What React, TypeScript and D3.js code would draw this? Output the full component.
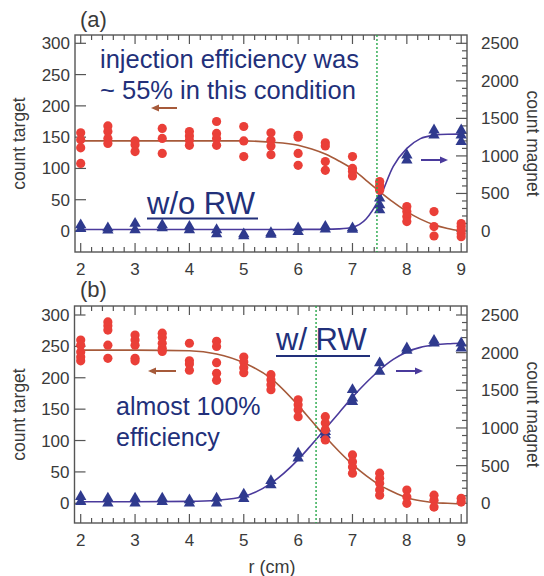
import React, { useEffect, useRef } from "react";
import * as d3 from "d3";

// r positions where counts were taken (cm)
const rValues = [2, 2.5, 3, 3.5, 4, 4.5, 5, 5.5, 6, 6.5, 7, 7.5, 8, 8.5, 9];

// (a) w/o RW -- count target (left axis), one list per r
const targetA = [
  [157, 146, 133, 108], [168, 159, 148, 140], [144, 138, 127], [164, 148, 124],
  [159, 152, 145, 137], [175, 156, 148, 137], [167, 144, 119], [157, 145, 136, 122],
  [153, 150, 124, 105], [141, 136, 111, 97], [119, 100, 95, 88], [79, 73, 68, 65],
  [39, 31, 23, 15], [31, 7, -8], [12, 7, 2, -4, -9],
];
// (a) count magnet (right axis)
const magnetA = [
  [80, 30], [40, 10], [100, 15], [80, 40], [60, 15], [15, -40], [-40, -65], [-25, -45],
  [40, -10], [60, 25], [40, 20], [435, 346, 279], [1010, 944], [1343, 1276], [1343, 1276, 1188],
];

// (b) w/ RW
const targetB = [
  [260, 252, 241, 233, 227], [289, 283, 276, 252, 231], [268, 260, 252, 231, 227],
  [271, 264, 255, 247, 242], [255, 227, 222, 212], [258, 250, 224, 207, 196],
  [233, 225, 216, 208], [205, 197, 189, 181], [165, 157, 149, 138], [138, 128, 117, 101],
  [77, 66, 58, 48], [48, 40, 32, 21, 13], [21, 10, 0], [13, 5, -6], [8, 2],
];
const magnetB = [
  [88, 22], [66, 0], [66, 0], [66, 22], [44, 0], [66, 0], [120, 60], [300, 243],
  [665, 598], [997, 952, 908], [1507, 1395, 1350], [1862, 1750], [2060, 2030],
  [2162, 2127], [2127, 2060],
];

// fitted curves
const fitR = [2, 3, 4, 4.5, 5, 5.5, 6, 6.25, 6.5, 6.75, 7, 7.25, 7.5, 7.75, 8, 8.25, 8.5, 8.75, 9];
const fitTargetA = [144, 144, 144, 144, 144, 142, 137, 131, 123, 112, 99, 81, 63, 46, 31, 19, 10, 4, 0];
const fitMagnetA = [20, 20, 20, 20, 20, 20, 21, 21, 22, 28, 50, 160, 440, 860, 1100, 1230, 1275, 1288, 1290];
const fitTargetB = [244, 244, 243, 238, 224, 199, 156, 131, 106, 83, 62, 44, 29, 18, 9, 4, 1, 0, -1];
const fitMagnetB = [20, 20, 25, 40, 90, 265, 580, 780, 990, 1200, 1410, 1600, 1770, 1910, 2010, 2070, 2100, 2118, 2125];

// where the RW marker (green dotted) sits
const markerR = [7.45, 6.33];

const xTicks = [2, 3, 4, 5, 6, 7, 8, 9];
const targetTicks = [0, 50, 100, 150, 200, 250, 300];
const magnetTicks = [0, 500, 1000, 1500, 2000, 2500];

const FONT = "'Liberation Sans', Arial, Helvetica, sans-serif";
const RED = "#ea3f38";
const BLUE = "#2f3a8e";
const RED_LINE = "#a65a3a";
const BLUE_LINE = "#4a3a9c";
const NAVY = "#22307a";
const AXIS = "#555";
const TEXT = "#3a3a3a";

// frame geometry of the two panels
const layout = [
  { top: 35, bottom: 252, left: 75, right: 467, y0: 231, y300: 43.3 },
  { top: 306, bottom: 523, left: 74.5, right: 467, y0: 503.3, y300: 315 },
];

function arrow(g, x1, x2, y, color) {
  const dir = Math.sign(x2 - x1);
  g.append("line")
    .attr("x1", x1).attr("x2", x2 - dir * 6)
    .attr("y1", y).attr("y2", y)
    .attr("stroke", color).attr("stroke-width", 2);
  g.append("path")
    .attr("d", `M${x2},${y} L${x2 - dir * 8},${y - 3.5} L${x2 - dir * 8},${y + 3.5} Z`)
    .attr("fill", color);
}

export default function App() {
  const ref = useRef<SVGSVGElement | null>(null);

  useEffect(() => {
    const svg = d3.select(ref.current);
    svg.selectAll("*").remove();

    const panelData = [
      { target: targetA, magnet: magnetA, fitT: fitTargetA, fitM: fitMagnetA },
      { target: targetB, magnet: magnetB, fitT: fitTargetB, fitM: fitMagnetB },
    ];

    panelData.forEach((pd, i) => {
      const L = layout[i];
      const g = svg.append("g");

      const x = d3.scaleLinear()
        .domain([2, 9])
        .range([80.7, 461.2]);
      const yT = d3.scaleLinear().domain([0, 300]).range([L.y0, L.y300]);
      const yM = d3.scaleLinear().domain([0, 2500]).range([L.y0, L.y300]);

      // frame
      g.append("rect")
        .attr("x", L.left).attr("y", L.top)
        .attr("width", L.right - L.left).attr("height", L.bottom - L.top)
        .attr("fill", "none").attr("stroke", AXIS).attr("stroke-width", 1.4);

      // x ticks, top and bottom, inward
      const minorX = d3.range(20, 91, 2).map((v) => v / 10);
      minorX.forEach((v) => {
        const major = Number.isInteger(v);
        const len = major ? 9 : 5;
        const px = x(v);
        g.append("line").attr("x1", px).attr("x2", px)
          .attr("y1", L.bottom).attr("y2", L.bottom - len)
          .attr("stroke", AXIS).attr("stroke-width", 1.2);
        g.append("line").attr("x1", px).attr("x2", px)
          .attr("y1", L.top).attr("y2", L.top + len)
          .attr("stroke", AXIS).attr("stroke-width", 1.2);
      });

      // left ticks
      targetTicks.forEach((v) => {
        g.append("line").attr("x1", L.left).attr("x2", L.left + 11)
          .attr("y1", yT(v)).attr("y2", yT(v))
          .attr("stroke", AXIS).attr("stroke-width", 1.2);
        g.append("text").attr("x", L.left - 5).attr("y", yT(v) + 6)
          .attr("text-anchor", "end").attr("font-size", 17)
          .attr("font-family", FONT).attr("fill", TEXT).text(v);
      });

      // right ticks
      d3.range(0, 2501, 100).forEach((v) => {
        const len = v % 500 === 0 ? 11 : 5;
        g.append("line").attr("x1", L.right).attr("x2", L.right - len)
          .attr("y1", yM(v)).attr("y2", yM(v))
          .attr("stroke", AXIS).attr("stroke-width", 1.2);
      });
      magnetTicks.forEach((v) => {
        g.append("text").attr("x", L.right + 14).attr("y", yM(v) + 6)
          .attr("font-size", 17).attr("font-family", FONT)
          .attr("fill", TEXT).text(v);
      });

      // x labels
      xTicks.forEach((v) => {
        g.append("text").attr("x", x(v)).attr("y", L.bottom + 23)
          .attr("text-anchor", "middle").attr("font-size", 17)
          .attr("font-family", FONT).attr("fill", TEXT).text(v);
      });

      // axis titles
      const midY = (L.top + L.bottom) / 2;
      g.append("text")
        .attr("transform", `translate(25,${midY}) rotate(-90)`)
        .attr("text-anchor", "middle").attr("font-size", 17.5)
        .attr("font-family", FONT).attr("fill", TEXT).text("count target");
      g.append("text")
        .attr("transform", `translate(527,${midY}) rotate(90)`)
        .attr("text-anchor", "middle").attr("font-size", 17.5)
        .attr("font-family", FONT).attr("fill", TEXT).text("count magnet");

      // fitted curves
      const lineT = d3.line<number>()
        .x((d, j) => x(fitR[j])).y((d) => yT(d))
        .curve(d3.curveMonotoneX);
      const lineM = d3.line<number>()
        .x((d, j) => x(fitR[j])).y((d) => yM(d))
        .curve(d3.curveMonotoneX);
      g.append("path").attr("d", lineT(pd.fitT))
        .attr("fill", "none").attr("stroke", RED_LINE).attr("stroke-width", 1.6);
      g.append("path").attr("d", lineM(pd.fitM))
        .attr("fill", "none").attr("stroke", BLUE_LINE).attr("stroke-width", 1.6);

      // points
      const tri = d3.symbol().type(d3.symbolTriangle).size(56);
      pd.magnet.forEach((vals, j) => {
        vals.forEach((v) => {
          g.append("path").attr("d", tri())
            .attr("transform", `translate(${x(rValues[j])},${yM(v)})`)
            .attr("fill", BLUE);
        });
      });
      pd.target.forEach((vals, j) => {
        vals.forEach((v) => {
          g.append("circle").attr("cx", x(rValues[j])).attr("cy", yT(v))
            .attr("r", 4.6).attr("fill", RED);
        });
      });

      // green dotted marker
      g.append("line")
        .attr("x1", x(markerR[i])).attr("x2", x(markerR[i]))
        .attr("y1", L.top).attr("y2", L.bottom)
        .attr("stroke", "#27a84a").attr("stroke-width", 1.4)
        .attr("stroke-dasharray", "2,2");
    });

    // panel labels
    svg.append("text").attr("x", 80).attr("y", 27).attr("font-size", 22)
      .attr("font-family", FONT).attr("fill", TEXT).text("(a)");
    svg.append("text").attr("x", 80).attr("y", 297).attr("font-size", 22)
      .attr("font-family", FONT).attr("fill", TEXT).text("(b)");

    // annotations (a)
    const ann = svg.append("g").attr("font-family", FONT).attr("fill", NAVY);
    ann.append("text").attr("x", 100).attr("y", 68).attr("font-size", 25.5)
      .text("injection efficiency was");
    ann.append("text").attr("x", 100).attr("y", 99).attr("font-size", 25.5)
      .text("~ 55% in this condition");
    ann.append("text").attr("x", 147).attr("y", 214).attr("font-size", 31)
      .text("w/o RW");
    ann.append("line").attr("x1", 147).attr("x2", 258).attr("y1", 218.5).attr("y2", 218.5)
      .attr("stroke", NAVY).attr("stroke-width", 2);
    arrow(svg, 177, 151, 108, RED_LINE);
    arrow(svg, 421, 448, 160, BLUE_LINE);

    // annotations (b)
    ann.append("text").attr("x", 276).attr("y", 350).attr("font-size", 31)
      .text("w/ RW");
    ann.append("line").attr("x1", 276).attr("x2", 370).attr("y1", 356).attr("y2", 356)
      .attr("stroke", NAVY).attr("stroke-width", 2);
    ann.append("text").attr("x", 116).attr("y", 415).attr("font-size", 25)
      .text("almost 100%");
    ann.append("text").attr("x", 116).attr("y", 446).attr("font-size", 25)
      .text("efficiency");
    arrow(svg, 176, 148, 371, RED_LINE);
    arrow(svg, 396, 423, 371, BLUE_LINE);

    // x title
    svg.append("text").attr("x", 272).attr("y", 573).attr("text-anchor", "middle")
      .attr("font-size", 18).attr("font-family", FONT).attr("fill", TEXT)
      .text("r (cm)");
  }, []);

  return (
    <svg
      ref={ref}
      width={544}
      height={576}
      style={{ position: "absolute", left: 0, top: 0, background: "#fff" }}
    />
  );
}
